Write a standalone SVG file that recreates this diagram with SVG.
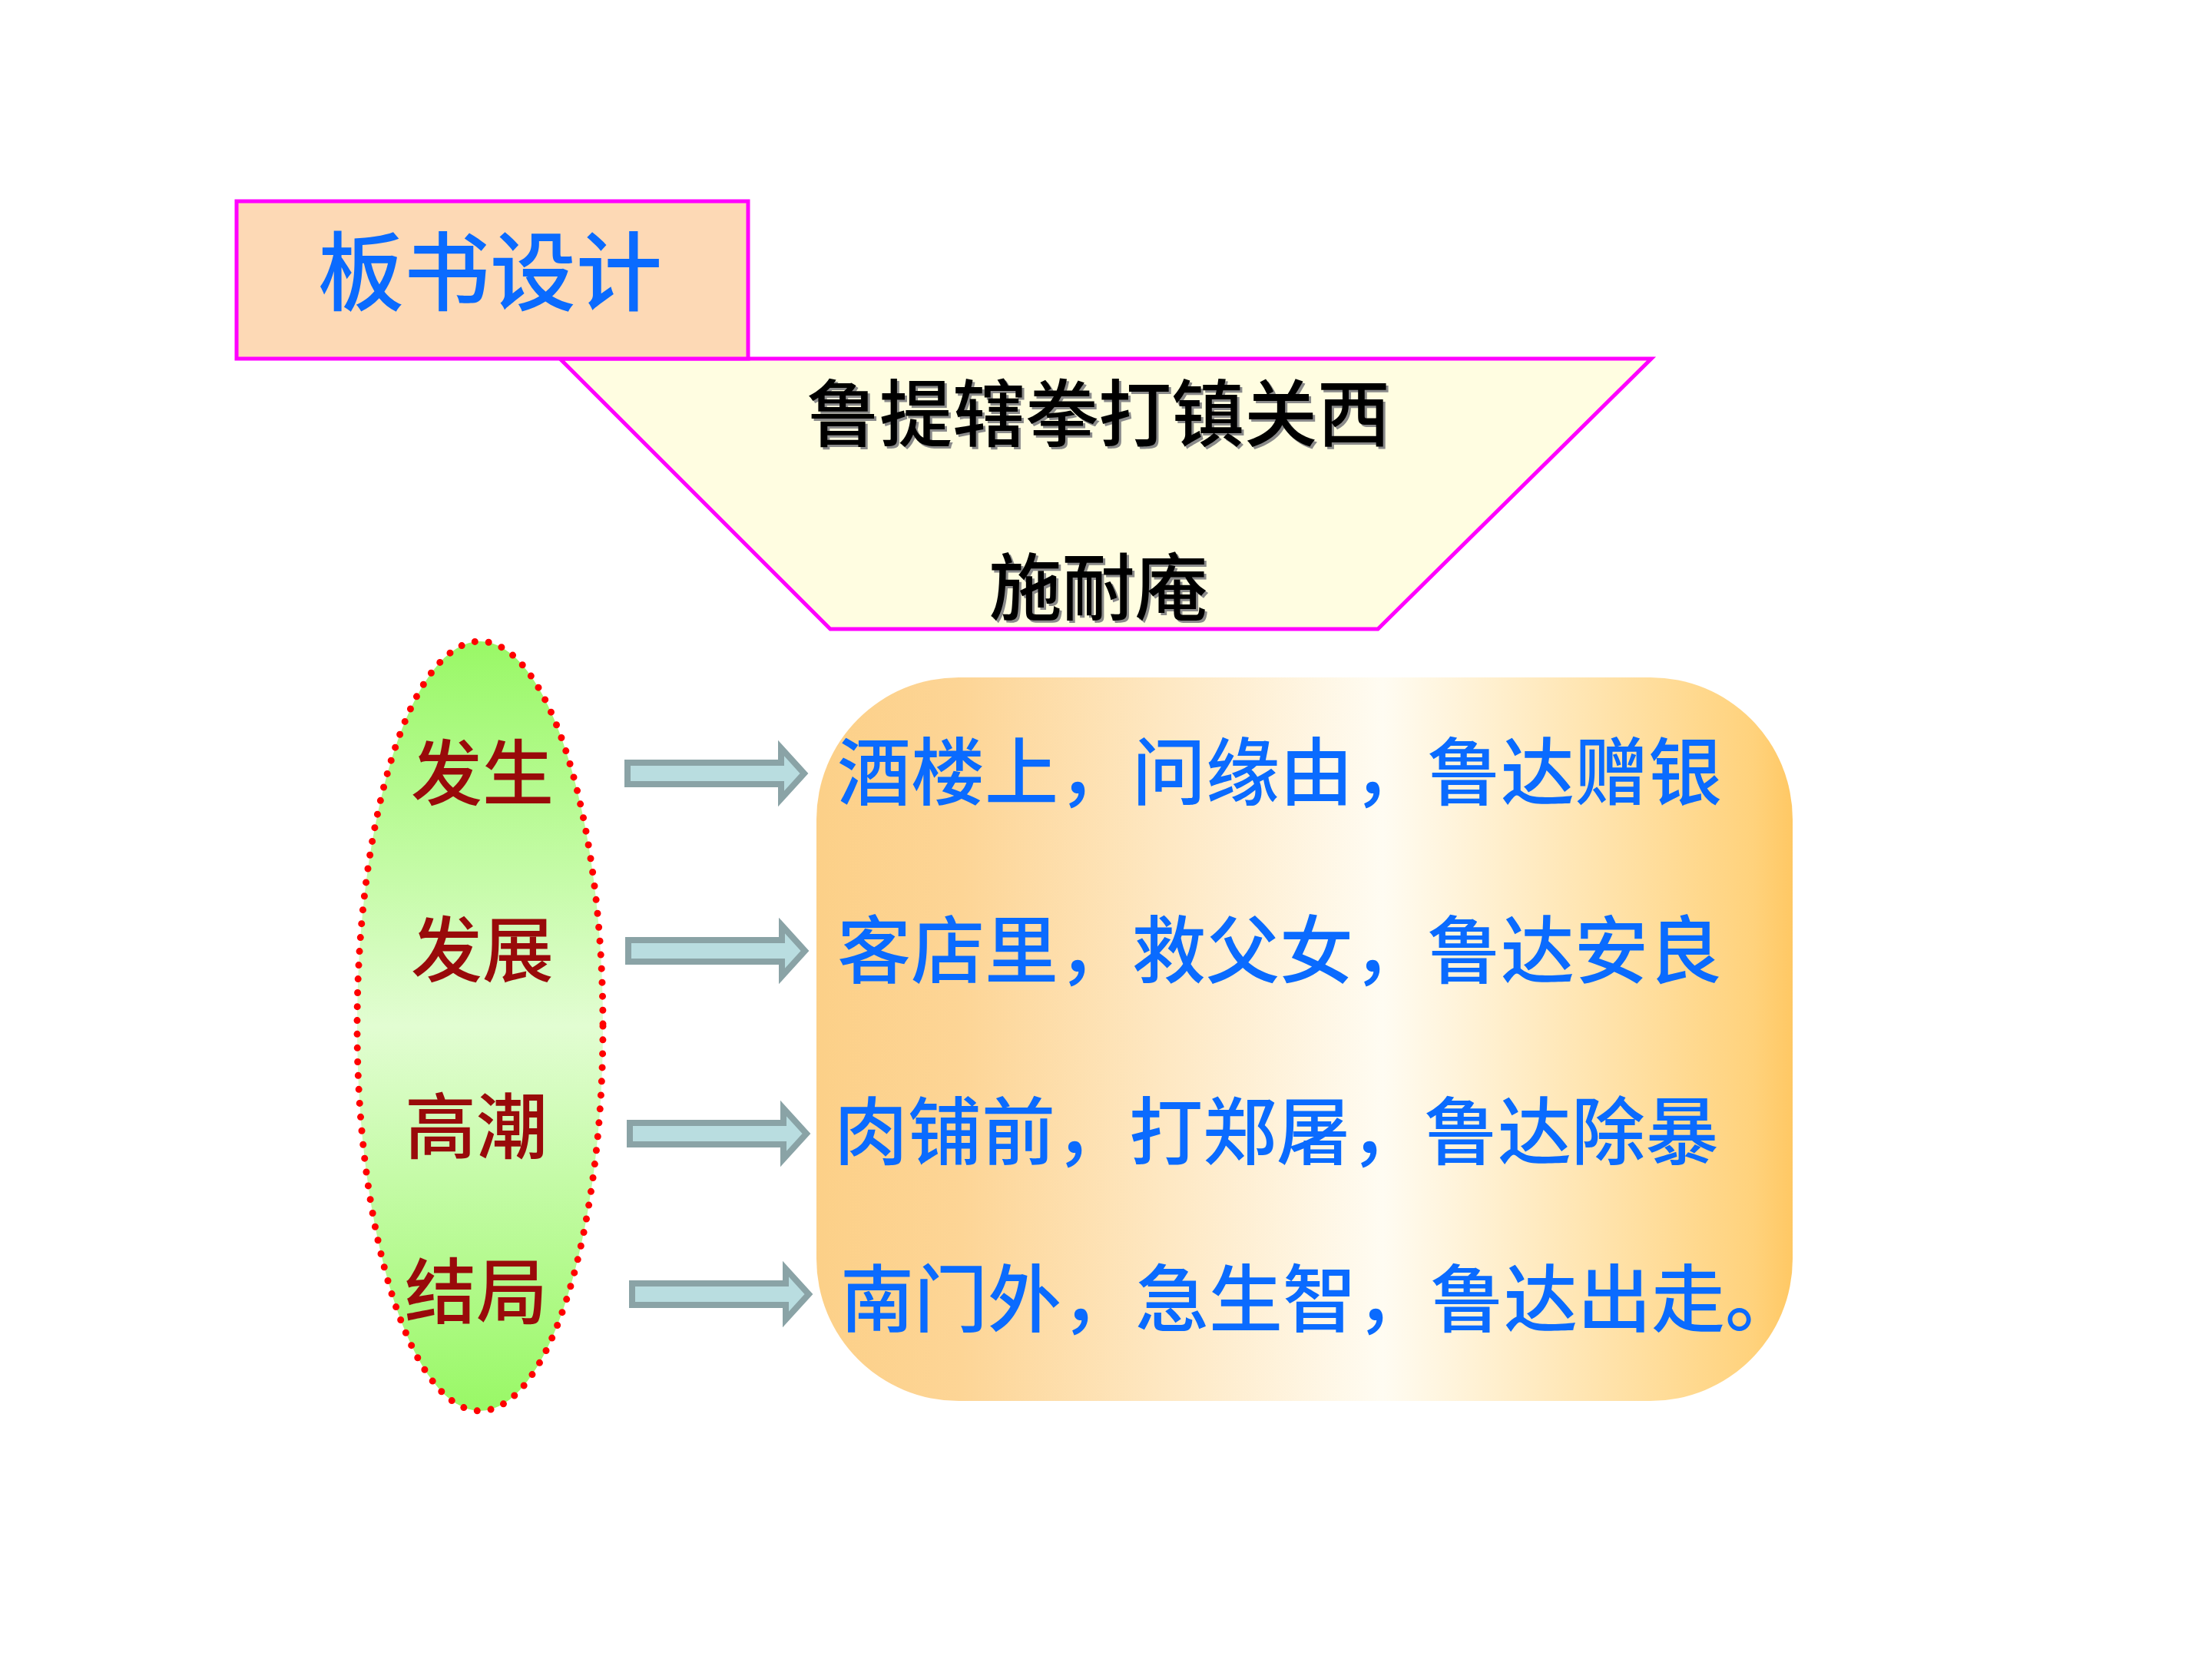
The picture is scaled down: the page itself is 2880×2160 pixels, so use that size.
<svg xmlns="http://www.w3.org/2000/svg" width="2880" height="2160" viewBox="0 0 2880 2160">
<defs>
<style>
.cjk{font-family:"Noto Sans CJK SC","Noto Sans CJK TC",sans-serif;}
.title{font-size:112px;fill:#0A6BFF;font-weight:500;}
.head{font-size:95px;fill:#000;font-weight:500;}
.headsh{font-size:95px;fill:#8a8a8a;font-weight:500;}
.stage{font-size:93px;fill:#990A0A;font-weight:500;}
.event{font-size:96px;fill:#0A6BFF;font-weight:500;}
.arrow{fill:#B9DDE0;stroke:#8AA3A6;stroke-width:8;stroke-linejoin:miter;}
</style>
<linearGradient id="gEll" x1="0" y1="0" x2="0" y2="1">
<stop offset="0" stop-color="#99F866"/>
<stop offset="0.5" stop-color="#E2FDD2"/>
<stop offset="1" stop-color="#99F866"/>
</linearGradient>
<linearGradient id="gBox" x1="0" y1="0" x2="1" y2="0">
<stop offset="0" stop-color="#FCD088"/>
<stop offset="0.15" stop-color="#FDD596"/>
<stop offset="0.58" stop-color="#FFFCF2"/>
<stop offset="0.96" stop-color="#FFD27C"/>
<stop offset="1" stop-color="#FFC864"/>
</linearGradient>
<path id="arw" d="M4,-14 L204,-14 L204,-33 L234,0 L204,33 L204,14 L4,14 Z"/>
</defs>
<rect width="2880" height="2160" fill="#FFFFFF"/>

<g id="node-trapezoid">
<polygon points="729,467 2150,467 1794,819 1081,819" fill="#FFFDE1" stroke="#FF00FF" stroke-width="5"/>
<text class="cjk headsh" x="1433" y="577" text-anchor="middle">鲁提辖拳打镇关西</text>
<text class="cjk head" x="1430" y="574" text-anchor="middle">鲁提辖拳打镇关西</text>
<text class="cjk headsh" x="1433" y="803" text-anchor="middle">施耐庵</text>
<text class="cjk head" x="1430" y="800" text-anchor="middle">施耐庵</text>
</g>

<g id="node-title">
<rect x="308" y="262" width="666" height="205" fill="#FDD9B5" stroke="#FF00FF" stroke-width="5"/>
<text class="cjk title" x="638" y="396" text-anchor="middle">板书设计</text>
</g>

<g id="node-stages">
<ellipse cx="625" cy="1336" rx="160" ry="501" fill="url(#gEll)" stroke="#FF0000" stroke-width="9" stroke-linecap="round" stroke-dasharray="0 18"/>
<text class="cjk stage" x="628" y="1041" text-anchor="middle">发生</text>
<text class="cjk stage" x="628" y="1271" text-anchor="middle">发展</text>
<text class="cjk stage" x="620" y="1501" text-anchor="middle">高潮</text>
<text class="cjk stage" x="620" y="1716" text-anchor="middle">结局</text>
</g>

<g id="node-events">
<rect x="1063" y="882" width="1271" height="942" rx="185" ry="185" fill="url(#gBox)"/>
<text class="cjk event" x="1090" y="1040">酒楼上，问缘由，鲁达赠银</text>
<text class="cjk event" x="1090" y="1272">客店里，救父女，鲁达安良</text>
<text class="cjk event" x="1086" y="1508">肉铺前，打郑屠，鲁达除暴</text>
<text class="cjk event" x="1094" y="1726">南门外，急生智，鲁达出走。</text>
</g>

<g id="connectors">
<use href="#arw" class="arrow" transform="translate(813,1007)"/>
<use href="#arw" class="arrow" transform="translate(814,1238)"/>
<use href="#arw" class="arrow" transform="translate(816,1476)"/>
<use href="#arw" class="arrow" transform="translate(819,1685)"/>
</g>
</svg>
